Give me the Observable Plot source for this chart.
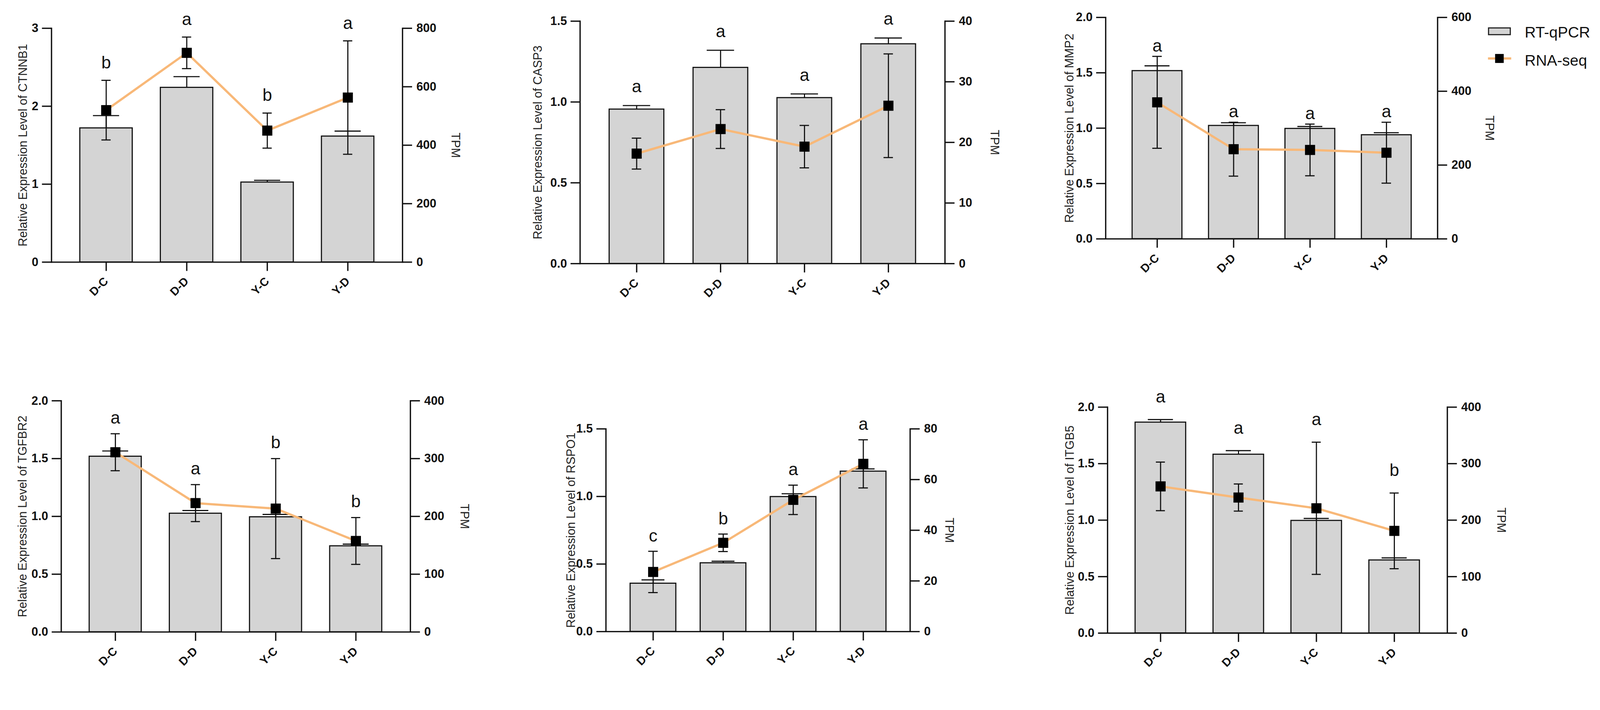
<!DOCTYPE html>
<html>
<head>
<meta charset="utf-8">
<script src="https://cdn.jsdelivr.net/npm/d3@7"></script>
<script src="https://cdn.jsdelivr.net/npm/@observablehq/plot@0.6"></script>
<style>
  html, body { margin: 0; padding: 0; background: #fff; overflow: hidden; }
  #root { position: relative; width: 4271px; height: 1817px; overflow: hidden; transform-origin: 0 0; font-family: "Liberation Sans", Arial, sans-serif; background: #fff; }
  #root svg.panel { position: absolute; overflow: visible; }
  .lg { position: absolute; }
  .lgtext { position: absolute; font-size: 41px; line-height: 1; color: #111; white-space: nowrap; font-family: "Liberation Sans", Arial, sans-serif; }
</style>
</head>
<body>
<div id="root"></div>
<script>
// ---------------- data ----------------
const categories = ["D-C", "D-D", "Y-C", "Y-D"];
const genes = ["CTNNB1", "CASP3", "MMP2", "TGFBR2", "RSPO1", "ITGB5"];

// RT-qPCR relative expression (mean, SD) per gene, per category
const qpcrMean = [
  [1.72, 2.24, 1.025, 1.615],
  [0.955, 1.213, 1.026, 1.359],
  [1.518, 1.023, 0.996, 0.939],
  [1.519, 1.026, 0.995, 0.744],
  [0.357, 0.508, 0.998, 1.186],
  [1.866, 1.582, 0.996, 0.646]
];
const qpcrSD = [
  [0.16, 0.14, 0.025, 0.066],
  [0.023, 0.107, 0.024, 0.037],
  [0.045, 0.026, 0.019, 0.02],
  [0.047, 0.025, 0.022, 0.016],
  [0.026, 0.013, 0.022, 0.018],
  [0.024, 0.033, 0.019, 0.02]
];
// RNA-seq TPM (mean, SD)
const tpmMean = [
  [520, 716, 450, 563],
  [18.15, 22.2, 19.3, 26.05],
  [370, 243, 241, 233.5],
  [311, 223, 213.5, 157.5],
  [23.55, 35.05, 52, 66.2],
  [259.75, 240, 221, 181]
];
const tpmSD = [
  [102, 54, 60, 194],
  [2.55, 3.2, 3.5, 8.55],
  [124.5, 73, 70, 82.5],
  [32, 32, 86.5, 40.5],
  [8.15, 3.45, 5.8, 9.5],
  [43, 24, 117, 67]
];
const letters = [
  ["b", "a", "b", "a"],
  ["a", "a", "a", "a"],
  ["a", "a", "a", "a"],
  ["a", "a", "b", "b"],
  ["c", "b", "a", "a"],
  ["a", "a", "a", "b"]
];
// axis extents and tick steps
const leftMax = [3, 1.5, 2, 2, 1.5, 2];
const leftStep = [1, 0.5, 0.5, 0.5, 0.5, 0.5];
const rightMax = [800, 40, 600, 400, 80, 400];
const rightStep = [200, 10, 200, 100, 20, 100];
const legendLabels = ["RT-qPCR", "RNA-seq"];

// ---------------- layout (frame edges in page px) ----------------
const PAGE_W = 4271, PAGE_H = 1817;
const layout = [
  {l: 137,  r: 1074, t: 75,   b: 699,  ylab: 76,  tpm: 141, gap: 47},
  {l: 1548, r: 2522, t: 56,   b: 703,  ylab: 112, tpm: 132, gap: 50},
  {l: 2951, r: 3837, t: 46,   b: 637,  ylab: 96,  tpm: 138, gap: 28},
  {l: 163,  r: 1095, t: 1069, b: 1686, ylab: 103, tpm: 144, gap: 42},
  {l: 1617, r: 2429, t: 1144, b: 1685, ylab: 93,  tpm: 104, gap: 41},
  {l: 2956, r: 3863, t: 1086, b: 1689, ylab: 100, tpm: 144, gap: 60}
];
const M = {left: 160, right: 180, top: 100, bottom: 150};
const BAR_FILL = "#d4d4d4";
const INK = "#111";
const ORANGE = "#f8b878";
const FONT = "'Liberation Sans', Arial, sans-serif";

const root = document.getElementById("root");
// fit the fixed-size figure into whatever viewport the browser really has
function fit() {
  const s = Math.min(window.innerWidth / PAGE_W, window.innerHeight / PAGE_H);
  root.style.transform = s < 0.999 || s > 1.001 ? `scale(${s})` : "";
}
fit();
window.addEventListener("resize", fit);

function panel(i) {
  const L = layout[i];
  const k = leftMax[i] / rightMax[i];
  const rows = categories.map((c, j) => {
    const d = {
      cat: c,
      q: qpcrMean[i][j],
      qhi: qpcrMean[i][j] + qpcrSD[i][j],
      t: tpmMean[i][j] * k,
      tlo: (tpmMean[i][j] - tpmSD[i][j]) * k,
      thi: (tpmMean[i][j] + tpmSD[i][j]) * k,
      letter: letters[i][j]
    };
    d.top = Math.max(d.qhi, d.thi);
    return d;
  });
  const W = L.r - L.l, H = L.b - L.t;
  const pi = 0.35, po = 0.345;
  const step = W / (categories.length - pi + 2 * po);
  const bw = step * (1 - pi);
  const leftTicks = d3.range(0, leftMax[i] + 1e-9, leftStep[i]);
  const rightTicks = d3.range(0, rightMax[i] + 1e-9, rightStep[i]);
  const lfmt = leftStep[i] < 1 ? d3.format(".1f") : d3.format("d");
  const axisStyle = {fontSize: 32, fontWeight: "bold", stroke: INK, strokeWidth: 3.5, fill: INK};

  const svg = Plot.plot({
    width: W + M.left + M.right,
    height: H + M.top + M.bottom,
    marginLeft: M.left, marginRight: M.right, marginTop: M.top, marginBottom: M.bottom,
    x: {type: "band", domain: categories, paddingInner: pi, paddingOuter: po},
    y: {domain: [0, leftMax[i]]},
    style: {background: "transparent", fontFamily: FONT, color: INK, overflow: "visible"},
    marks: [
      Plot.barY(rows, {x: "cat", y: "q", fill: BAR_FILL, stroke: INK, strokeWidth: 3}),
      Plot.ruleX(rows, {x: "cat", y1: "q", y2: "qhi", stroke: INK, strokeWidth: 3}),
      Plot.tickY(rows, {x: "cat", y: "qhi", inset: bw * 0.25, stroke: INK, strokeWidth: 3}),
      Plot.line(rows, {x: "cat", y: "t", stroke: ORANGE, strokeWidth: 6}),
      Plot.ruleX(rows, {x: "cat", y1: "tlo", y2: "thi", stroke: INK, strokeWidth: 3}),
      Plot.tickY(rows, {x: "cat", y: "tlo", inset: (bw - 25) / 2, stroke: INK, strokeWidth: 3}),
      Plot.tickY(rows, {x: "cat", y: "thi", inset: (bw - 25) / 2, stroke: INK, strokeWidth: 3}),
      Plot.dot(rows, {x: "cat", y: "t", symbol: "square", r: 15.2, fill: "#000", stroke: null}),
      Plot.text(rows, {x: "cat", y: "top", text: "letter", dy: -L.gap, fontSize: 46, fontWeight: "normal", lineAnchor: "middle", fill: INK}),
      Plot.axisY({anchor: "left", ticks: leftTicks, tickFormat: lfmt, tickSize: 25, tickPadding: 10, label: null, ...axisStyle}),
      Plot.axisY({anchor: "right", ticks: rightTicks.map(v => v * k), tickFormat: v => d3.format("d")(Math.round(v / k)), tickSize: 25, tickPadding: 12, label: null, ...axisStyle}),
      Plot.axisX({anchor: "bottom", tickRotate: -45, tickSize: 24, tickPadding: 22, label: null, fontSize: 31, fontWeight: "bold", stroke: INK, strokeWidth: 3.5, fill: INK}),
      Plot.frame({anchor: "left", stroke: INK, strokeWidth: 3.5}),
      Plot.frame({anchor: "right", stroke: INK, strokeWidth: 3.5}),
      Plot.frame({anchor: "bottom", stroke: INK, strokeWidth: 3.5}),
      Plot.text([`Relative Expression Level of ${genes[i]}`], {frameAnchor: "left", dx: -L.ylab, rotate: -90, textAnchor: "middle", lineAnchor: "middle", fontSize: 32, fontWeight: "normal", fill: "#222"}),
      Plot.text(["TPM"], {frameAnchor: "right", dx: L.tpm, rotate: 90, textAnchor: "middle", lineAnchor: "middle", fontSize: 32, fontWeight: "normal", fill: "#222"})
    ]
  });
  svg.classList.add("panel");
  svg.style.left = (L.l - M.left) + "px";
  svg.style.top = (L.t - M.top) + "px";
  svg.style.maxWidth = "none";
  root.appendChild(svg);
}

for (let i = 0; i < genes.length; i++) panel(i);

// ---------------- legend ----------------
function el(css, cls) {
  const d = document.createElement("div");
  d.className = cls || "lg";
  Object.assign(d.style, css);
  root.appendChild(d);
  return d;
}
el({left: "3972px", top: "73px", width: "61px", height: "21px", background: BAR_FILL, border: "3px solid #222", boxSizing: "border-box"});
el({left: "4070px", top: "66px"}, "lgtext").textContent = legendLabels[0];
el({left: "3972px", top: "153px", width: "62px", height: "6px", background: ORANGE});
el({left: "3991px", top: "144px", width: "23px", height: "24px", background: "#000"});
el({left: "4070px", top: "141px"}, "lgtext").textContent = legendLabels[1];
</script>
</body>
</html>
